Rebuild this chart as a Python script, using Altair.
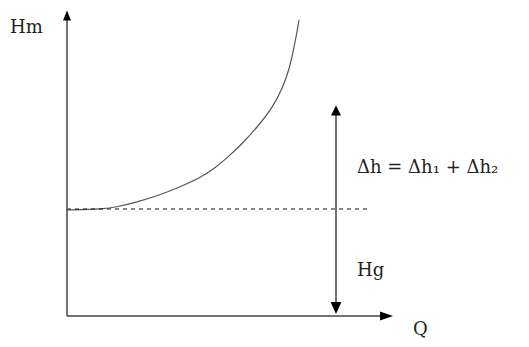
import altair as alt
import pandas as pd

# System curve (Q, Hm), in drawing units
Q_curve = [0.0, 3.6, 5.0, 7.0, 9.0, 11.3, 13.3, 14.8, 16.0, 17.6, 19.2, 20.6, 21.6, 22.2, 22.65, 23.0, 23.2]
H_curve = [10.6, 10.7, 10.9, 11.4, 12.0, 12.9, 13.8, 14.8, 15.8, 17.3, 19.1, 20.9, 22.9, 24.6, 26.6, 28.4, 29.6]

# Static head level Hg
Hg_level = 10.7
Hg_dash_end = 30.3

# Axes and the double arrow (segments)
seg_x1 = [0.0, 0.0, 26.9]
seg_x2 = [0.0, 31.5, 26.9]
seg_y1 = [0.0, 0.0, 0.6]
seg_y2 = [29.7, 0.0, 20.2]

# Arrow heads
arr_x = [0.0, 31.95, 26.9, 26.9]
arr_y = [30.05, 0.0, 20.56, 0.8]
arr_shape = [
    "M0,-1L0.8,1L-0.8,1Z",
    "M1,0L-1,0.7L-1,-0.7Z",
    "M0,-1L1,1L-1,1Z",
    "M0,1L0.9,-1L-0.9,-1Z",
]
arr_size = [100, 169, 100, 144]

# Labels
lab_text = ["Hm", "Δh = Δh₁ +  Δh₂", "Hg", "Q"]
lab_x = [-5.7, 29.0, 29.0, 34.6]
lab_y = [28.3, 14.3, 4.0, -1.9]

xs = alt.Scale(domain=[-5.9, 45.4], nice=False, zero=False)
ys = alt.Scale(domain=[-2.3, 30.8], nice=False, zero=False)

curve_df = pd.DataFrame({"Q": Q_curve, "H": H_curve})
dash_df = pd.DataFrame({"x1": [0.0], "x2": [Hg_dash_end], "y": [Hg_level]})
seg_df = pd.DataFrame({"x1": seg_x1, "x2": seg_x2, "y1": seg_y1, "y2": seg_y2})
lab_df = pd.DataFrame({"t": lab_text, "x": lab_x, "y": lab_y})

curve = alt.Chart(curve_df).mark_line(color="#555555", strokeWidth=1.2, interpolate="basis").encode(
    x=alt.X("Q:Q", scale=xs, axis=None),
    y=alt.Y("H:Q", scale=ys, axis=None),
)

dash = alt.Chart(dash_df).mark_rule(color="#111111", strokeWidth=1, strokeDash=[4, 4]).encode(
    x=alt.X("x1:Q", scale=xs, axis=None),
    x2="x2:Q",
    y=alt.Y("y:Q", scale=ys, axis=None),
)

segs = alt.Chart(seg_df).mark_rule(color="#444444", strokeWidth=1.5).encode(
    x=alt.X("x1:Q", scale=xs, axis=None),
    x2="x2:Q",
    y=alt.Y("y1:Q", scale=ys, axis=None),
    y2="y2:Q",
)

arrow_layers = []
for ax_, ay_, sh, sz in zip(arr_x, arr_y, arr_shape, arr_size):
    d = pd.DataFrame({"x": [ax_], "y": [ay_]})
    arrow_layers.append(
        alt.Chart(d).mark_point(shape=sh, size=sz, filled=True, color="#000000", opacity=1, strokeWidth=0).encode(
            x=alt.X("x:Q", scale=xs, axis=None),
            y=alt.Y("y:Q", scale=ys, axis=None),
        )
    )

labels = alt.Chart(lab_df).mark_text(
    align="left", baseline="alphabetic", font="DejaVu Serif", fontSize=18, color="#222222"
).encode(
    x=alt.X("x:Q", scale=xs, axis=None),
    y=alt.Y("y:Q", scale=ys, axis=None),
    text="t:N",
)

chart = alt.layer(curve, dash, segs, *arrow_layers, labels).properties(
    width=513, height=331, autosize=alt.AutoSizeParams(type="none"), padding=0
).configure_view(stroke=None)

chart.save("out.html", embed_options={"renderer": "svg", "actions": False})
